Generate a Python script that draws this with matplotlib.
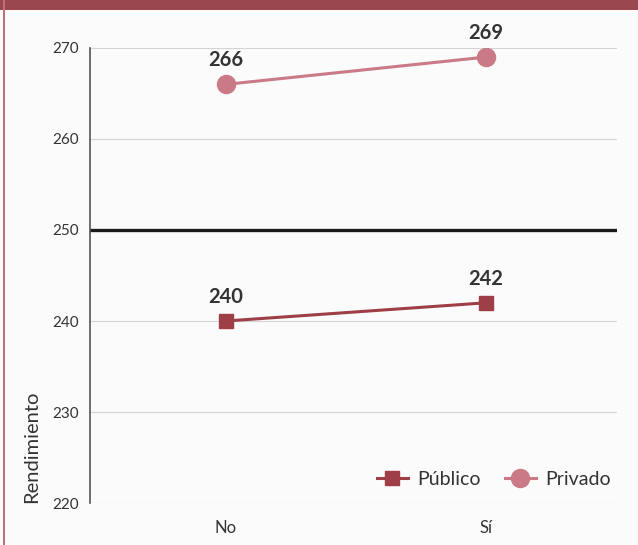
import matplotlib
matplotlib.use("Agg")
import matplotlib.pyplot as plt
from matplotlib.patches import Rectangle
from matplotlib.lines import Line2D

categories = ["No", "Sí"]
publico = [240, 242]
privado = [266, 269]
reference = 250
yticks = [220, 230, 240, 250, 260, 270]

plt.rcParams['font.family'] = ['Lato', 'DejaVu Sans']

c_pub = "#9e3f47"
c_priv = "#c97a86"
c_txt = "#333333"

fig = plt.figure(figsize=(6.38, 5.45), dpi=100)
fig.patch.set_facecolor("#fbfbfb")
ax = fig.add_axes([0.141, 0.077, 0.826, 0.835])
ax.set_facecolor("#fbfbfb")

x = list(range(len(categories)))
ax.set_xlim(-0.523, 1.504)
ax.set_ylim(220, 270)
ax.set_yticks(yticks)
ax.set_yticklabels([str(t) for t in yticks], fontsize=11, color=c_txt)
ax.set_xticks(x)
ax.set_xticklabels(categories, fontsize=12, color=c_txt)
ax.tick_params(length=0, pad=8)
ax.tick_params(axis='x', pad=12)
for t in yticks:
    ax.axhline(t, color="#d4d4d4", lw=0.8, zorder=1)
for s in ["top", "right", "bottom"]:
    ax.spines[s].set_visible(False)
ax.spines["left"].set_color("#555555")
ax.spines["left"].set_linewidth(1.2)

ax.axhline(reference, color="#1a1a1a", lw=2.4, zorder=2)

ax.plot(x, publico, color=c_pub, lw=2.2, marker="s", markersize=10, zorder=3)
ax.plot(x, privado, color=c_priv, lw=2.2, marker="o", markersize=13, zorder=3)

for xi, v in zip(x, publico):
    ax.annotate(str(v), (xi, v), xytext=(0, 10), textcoords="offset points",
                ha="center", va="bottom", fontsize=14.5, fontweight="bold", color=c_txt)
for xi, v in zip(x, privado):
    ax.annotate(str(v), (xi, v), xytext=(0, 10), textcoords="offset points",
                ha="center", va="bottom", fontsize=14.5, fontweight="bold", color=c_txt)

ax.set_ylabel("Rendimiento", fontsize=14.5, color=c_txt)
ax.yaxis.set_label_coords(-0.11, 0.0)
ax.yaxis.label.set_ha("left")
ax.yaxis.label.set_va("center")

handles = [Line2D([], [], color=c_pub, lw=2.2, marker="s", markersize=10),
           Line2D([], [], color=c_priv, lw=2.2, marker="o", markersize=13)]
leg = ax.legend(handles, ["Público", "Privado"], loc="lower right", ncol=2,
                frameon=False, fontsize=14, handlelength=1.6, columnspacing=1.2,
                handletextpad=0.5, bbox_to_anchor=(1.022, -0.005))
for t in leg.get_texts():
    t.set_color(c_txt)

fig.patches.append(Rectangle((0, 1 - 10/545), 1, 10/545, transform=fig.transFigure,
                             facecolor="#9b4750", edgecolor="none"))
fig.patches.append(Rectangle((3/638, 0), 2/638, 1, transform=fig.transFigure,
                             facecolor="#c0707a", edgecolor="none"))

fig.savefig("out.png", dpi=100, facecolor=fig.get_facecolor())
